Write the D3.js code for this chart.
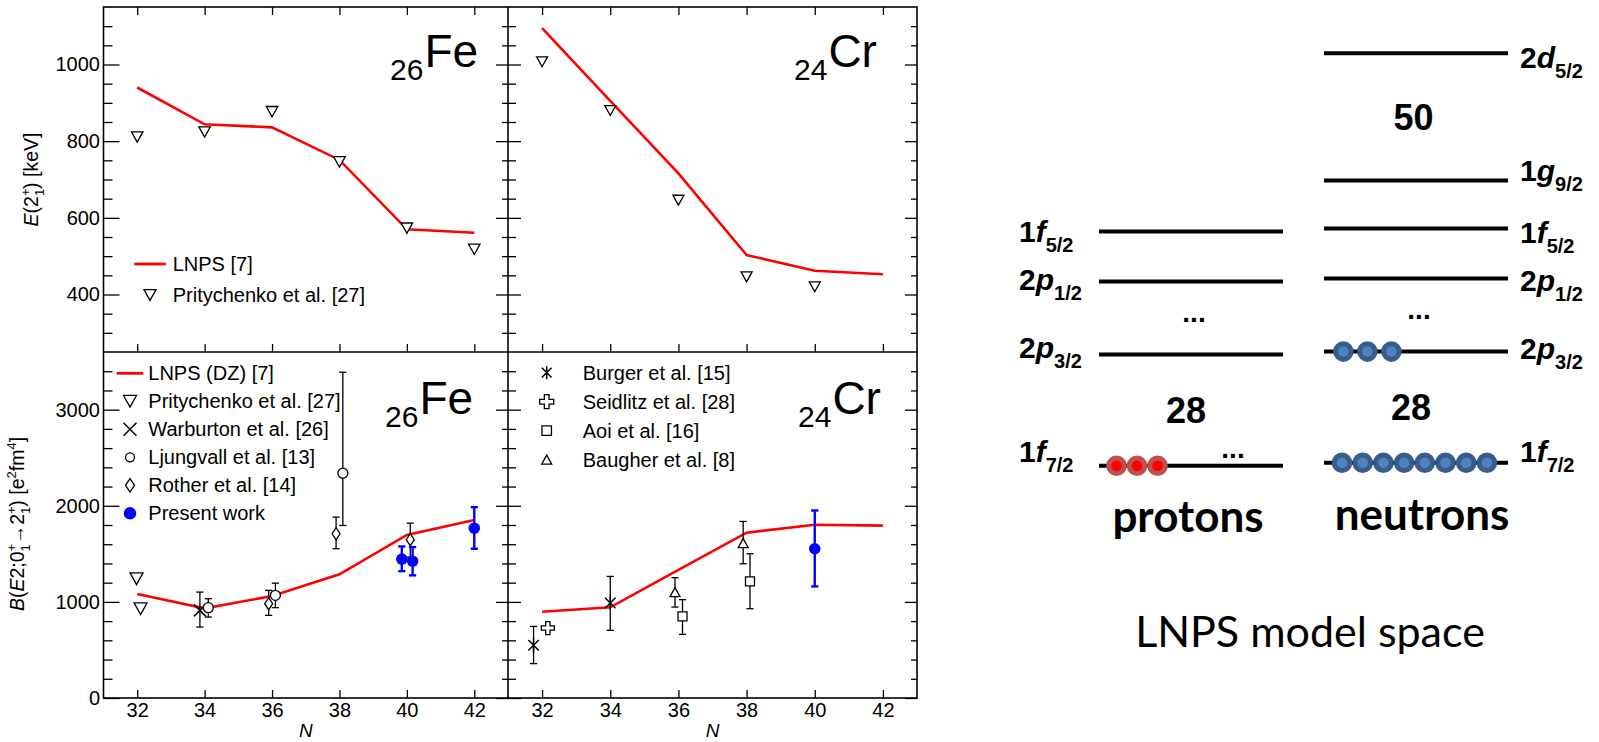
<!DOCTYPE html>
<html>
<head>
<meta charset="utf-8">
<script src="https://d3js.org/d3.v7.min.js"></script>
<style>
  body { margin: 0; background: #fff; }
  svg { display: block; }
  text { font-family: "Liberation Sans", Arial, Helvetica, sans-serif; fill: #000; }
</style>
</head>
<body>
<script>
// ---------- values ----------
const nTicks = [32, 34, 36, 38, 40, 42];
const eTicks = [400, 600, 800, 1000];
const bTicks = [0, 1000, 2000, 3000];

// E(2+) [keV]
const N = [32, 34, 36, 38, 40, 42];
const feE2Lnps = [940, 844, 836, 751, 570, 561];
const feE2Exp = [811, 824, 877, 746, 573, 518];
const crE2Lnps = [1095, 905, 716, 503, 462, 453];
const crE2ExpN = [32, 34, 36, 38, 40];
const crE2Exp = [1007, 880, 646, 446, 420];

// B(E2) [e2fm4], theory
const feBE2Lnps = [1082, 933, 1061, 1287, 1696, 1852];
const crBE2Lnps = [898, 944, 1332, 1720, 1803, 1793];

// B(E2) experiments: N as plotted, value, lower, upper
const fePritN = [31.98, 32.1], fePritB = [1241, 929];
const feWarbN = [33.86], feWarbB = [912], feWarbLo = [738], feWarbHi = [1102];
const feLjunN = [34.11, 36.1, 38.1], feLjunB = [940, 1068, 2339], feLjunLo = [842, 940, 1795], feLjunHi = [1033, 1195, 3389];
const feRothN = [35.9, 37.9, 40.1], feRothB = [981, 1709, 1647], feRothLo = [860, 1553, 1466], feRothHi = [1120, 1882, 1819];
const fePresN = [39.85, 40.17, 42], fePresB = [1445, 1424, 1767], fePresLo = [1320, 1276, 1553], fePresHi = [1577, 1570, 1986];

const crBurgN = [31.75, 34.0], crBurgB = [548, 988], crBurgLo = [358, 704], crBurgHi = [745, 1265];
const crSeidN = [32.17], crSeidB = [728];
const crAoiN = [36.12, 38.1], crAoiB = [849, 1213], crAoiLo = [662, 929], crAoiHi = [1023, 1501];
const crBaugN = [35.9, 37.9], crBaugB = [1102, 1611], crBaugLo = [946, 1397], crBaugHi = [1252, 1837];
const crPresN = [40], crPresB = [1553], crPresLo = [1161], crPresHi = [1951];

// LNPS model space (schematic level order)
const orbits = ["1f7/2", "2p3/2", "2p1/2", "1f5/2", "1g9/2", "2d5/2"];
const orbitE = [0, 111, 184, 234, 282, 409];
const protonOcc = [3, 0, 0, 0];
const neutronOcc = [8, 3, 0, 0, 0, 0];

// ---------- page ----------
const svg = d3.select("body").append("svg")
    .attr("width", 1599).attr("height", 742);
svg.append("rect").attr("width", 1599).attr("height", 742).attr("fill", "#fff");

const xL = d3.scaleLinear().domain([31, 43]).range([103.5, 508]);
const xR = d3.scaleLinear().domain([31, 43]).range([508, 917]);
const yE = d3.scaleLinear().domain([250, 1150]).range([352, 7]);
const yB = d3.scaleLinear().domain([0, 3600]).range([698, 352]);

const eMinor = d3.range(300, 1101, 50).filter(v => v % 200 !== 0);
const bMinor = d3.range(200, 3401, 200).filter(v => v % 1000 !== 0);

function axes(x, y, o) {
    const g = svg.append("g");
    const [xa, xb] = x.range();
    const yTop = y.range()[1], yBot = y.range()[0];
    g.append("g").attr("transform", `translate(${xa},0)`)
        .call(d3.axisLeft(y).tickValues(o.minor).tickSize(-o.lMin).tickFormat(() => ""));
    g.append("g").attr("transform", `translate(${xa},0)`)
        .call(d3.axisLeft(y).tickValues(o.major).tickSizeInner(-o.lMaj).tickSizeOuter(0)
            .tickPadding(3.5).tickFormat(o.yLabels ? d3.format("d") : () => ""));
    g.append("g").attr("transform", `translate(${xb},0)`)
        .call(d3.axisRight(y).tickValues(o.minor).tickSize(-6).tickFormat(() => ""));
    g.append("g").attr("transform", `translate(${xb},0)`)
        .call(d3.axisRight(y).tickValues(o.major).tickSize(-12).tickFormat(() => ""));
    if (o.top) {
        g.append("g").attr("transform", `translate(0,${yTop})`)
            .call(d3.axisTop(x).tickValues(nTicks).tickSize(-8).tickFormat(() => ""));
    }
    g.append("g").attr("transform", `translate(0,${yBot})`)
        .call(d3.axisBottom(x).tickValues(nTicks).tickSizeInner(-8).tickSizeOuter(0)
            .tickPadding(5).tickFormat(o.xLabels ? d3.format("d") : () => ""));
    g.selectAll(".domain").remove();
    g.selectAll(".tick line").attr("stroke", "#000").attr("stroke-width", 1.3);
    g.selectAll(".tick text").attr("font-size", 20).attr("fill", "#000");
}

axes(xL, yE, {major: eTicks, minor: eMinor, lMaj: 16, lMin: 9, yLabels: true, top: true, xLabels: false});
axes(xR, yE, {major: eTicks, minor: eMinor, lMaj: 13, lMin: 8, yLabels: false, top: true, xLabels: false});
axes(xL, yB, {major: bTicks, minor: bMinor, lMaj: 16, lMin: 9, yLabels: true, top: false, xLabels: true});
axes(xR, yB, {major: bTicks, minor: bMinor, lMaj: 13, lMin: 8, yLabels: false, top: false, xLabels: true});

// frames
svg.append("rect").attr("x", 103.5).attr("y", 7).attr("width", 917 - 103.5).attr("height", 698 - 7)
    .attr("fill", "none").attr("stroke", "#000").attr("stroke-width", 1.6);
svg.append("line").attr("x1", 103.5).attr("x2", 917).attr("y1", 352).attr("y2", 352)
    .attr("stroke", "#000").attr("stroke-width", 1.6);
svg.append("line").attr("x1", 508).attr("x2", 508).attr("y1", 7).attr("y2", 698)
    .attr("stroke", "#000").attr("stroke-width", 1.6);

// ---------- marks ----------
function symbolPath(type, s) {
    const h = s / 2;
    if (type === "tdown") return `M${-h},${-0.45 * s}H${h}L0,${0.45 * s}Z`;
    if (type === "tup") return `M${-h},${0.45 * s}H${h}L0,${-0.45 * s}Z`;
    if (type === "x") return `M${-h},${-h}L${h},${h}M${-h},${h}L${h},${-h}`;
    if (type === "circle" || type === "dot") return d3.symbol(d3.symbolCircle, Math.PI * h * h)();
    if (type === "diamond") return `M0,${-0.75 * s}L${h},0L0,${0.75 * s}L${-h},0Z`;
    if (type === "square") return `M${-h},${-h}H${h}V${h}H${-h}Z`;
    if (type === "star") {
        const d = h * 0.75;
        return `M0,${-h}V${h}M${-d},${-d}L${d},${d}M${-d},${d}L${d},${-d}`;
    }
    if (type === "plus") {
        const a = s / 6;
        return `M${-a},${-h}H${a}V${-a}H${h}V${a}H${a}V${h}H${-a}V${a}H${-h}V${-a}H${-a}Z`;
    }
}

function marker(g, type, s, cx, cy) {
    const filled = type === "dot";
    const open = !filled && type !== "x" && type !== "star";
    g.append("path")
        .attr("d", symbolPath(type, s))
        .attr("transform", `translate(${cx},${cy})`)
        .attr("fill", filled ? "#0000ff" : (open ? "#fff" : "none"))
        .attr("stroke", filled ? "none" : "#000")
        .attr("stroke-width", type === "x" || type === "star" ? 1.5 : 1.3);
}

function points(x, y, n, v, type, s, lo, hi) {
    const g = svg.append("g");
    const col = type === "dot" ? "#0000ff" : "#000";
    const w = type === "dot" ? 2.4 : 1.3;
    if (lo) {
        n.forEach((d, i) => {
            const px = x(d);
            g.append("line").attr("x1", px).attr("x2", px).attr("y1", y(lo[i])).attr("y2", y(hi[i]))
                .attr("stroke", col).attr("stroke-width", w);
            [lo[i], hi[i]].forEach(e => {
                g.append("line").attr("x1", px - 3.6).attr("x2", px + 3.6).attr("y1", y(e)).attr("y2", y(e))
                    .attr("stroke", col).attr("stroke-width", w);
            });
        });
    }
    n.forEach((d, i) => marker(g, type, s, x(d), y(v[i])));
}

function theory(x, y, vals) {
    svg.append("path")
        .datum(d3.zip(N, vals))
        .attr("fill", "none")
        .attr("stroke", "#ff0000")
        .attr("stroke-width", 2.6)
        .attr("d", d3.line().x(d => x(d[0])).y(d => y(d[1])));
}

// top row: E(2+)
theory(xL, yE, feE2Lnps);
points(xL, yE, N, feE2Exp, "tdown", 11.5);
theory(xR, yE, crE2Lnps);
points(xR, yE, crE2ExpN, crE2Exp, "tdown", 11);

// bottom row: B(E2)
theory(xL, yB, feBE2Lnps);
points(xL, yB, fePritN, fePritB, "tdown", 13);
points(xL, yB, feWarbN, feWarbB, "x", 12, feWarbLo, feWarbHi);
points(xL, yB, feLjunN, feLjunB, "circle", 10, feLjunLo, feLjunHi);
points(xL, yB, feRothN, feRothB, "diamond", 8, feRothLo, feRothHi);
points(xL, yB, fePresN, fePresB, "dot", 11.5, fePresLo, fePresHi);

theory(xR, yB, crBE2Lnps);
points(xR, yB, crBurgN, crBurgB, "star", 14, crBurgLo, crBurgHi);
points(xR, yB, crSeidN, crSeidB, "plus", 13);
points(xR, yB, crAoiN, crAoiB, "square", 9, crAoiLo, crAoiHi);
points(xR, yB, crBaugN, crBaugB, "tup", 10, crBaugLo, crBaugHi);
points(xR, yB, crPresN, crPresB, "dot", 11.5, crPresLo, crPresHi);

// ---------- legends ----------
function legend(rows, mx, tx, y0, dy, lineFrom, lineTo, sizes) {
    rows.forEach((r, i) => {
        const yy = y0 + i * dy;
        if (r[1] === "line") {
            svg.append("line").attr("x1", lineFrom).attr("x2", lineTo).attr("y1", yy).attr("y2", yy)
                .attr("stroke", "#ff0000").attr("stroke-width", 2.8);
        } else {
            marker(svg, r[1], sizes[r[1]], mx, yy);
        }
        svg.append("text").attr("x", tx).attr("y", yy).attr("dy", "0.35em")
            .attr("font-size", 20).text(r[0]);
    });
}

legend([["LNPS [7]", "line"], ["Pritychenko et al. [27]", "tdown"]],
    150, 172.7, 264, 31, 134.3, 165.7, {tdown: 12});
legend([["LNPS (DZ) [7]", "line"], ["Pritychenko et al. [27]", "tdown"], ["Warburton et al. [26]", "x"],
        ["Ljungvall et al. [13]", "circle"], ["Rother et al. [14]", "diamond"], ["Present work", "dot"]],
    130, 148.3, 373.3, 28, 116.7, 143.3, {tdown: 13, x: 13, circle: 9, diamond: 9, dot: 12.5});
legend([["Burger et al. [15]", "star"], ["Seidlitz et al. [28]", "plus"], ["Aoi et al. [16]", "square"],
        ["Baugher et al. [8]", "tup"]],
    546.7, 582.7, 372.7, 29, 0, 0, {star: 13, plus: 14, square: 9.5, tup: 10});

// ---------- nucleus labels ----------
function nucleus(x0, yBase, z, el) {
    const t = svg.append("text").attr("x", x0).attr("y", yBase);
    t.append("tspan").attr("font-size", 30).text(z);
    t.append("tspan").attr("font-size", 46).attr("dx", 1).attr("dy", -13).text(el);
}
nucleus(390, 80, "26", "Fe");
nucleus(794, 80, "24", "Cr");
nucleus(385, 427, "26", "Fe");
nucleus(798, 427, "24", "Cr");

// ---------- axis titles ----------
const tE = svg.append("text").attr("transform", "translate(38,179.5) rotate(-90)")
    .attr("text-anchor", "middle").attr("font-size", 19.5);
tE.append("tspan").attr("font-style", "italic").text("E");
tE.append("tspan").text("(2");
tE.append("tspan").attr("font-size", 13).attr("dy", -8).text("+");
tE.append("tspan").attr("font-size", 13).attr("dx", -7.6).attr("dy", 14).text("1");
tE.append("tspan").attr("dy", -6).text(") [keV]");

const tB = svg.append("text").attr("transform", "translate(24,524) rotate(-90)")
    .attr("text-anchor", "middle").attr("font-size", 19.5);
tB.append("tspan").attr("font-style", "italic").text("B");
tB.append("tspan").text("(");
tB.append("tspan").attr("font-style", "italic").text("E");
tB.append("tspan").text("2;0");
tB.append("tspan").attr("font-size", 13).attr("dy", -8).text("+");
tB.append("tspan").attr("font-size", 13).attr("dx", -7.6).attr("dy", 14).text("1");
tB.append("tspan").attr("dy", -6).text("\u21922");
tB.append("tspan").attr("font-size", 13).attr("dy", -8).text("+");
tB.append("tspan").attr("font-size", 13).attr("dx", -7.6).attr("dy", 14).text("1");
tB.append("tspan").attr("dy", -6).text(") [e");
tB.append("tspan").attr("font-size", 13).attr("dy", -8).text("2");
tB.append("tspan").attr("dy", 8).text("fm");
tB.append("tspan").attr("font-size", 13).attr("dy", -8).text("4");
tB.append("tspan").attr("dy", 8).text("]");

[xL, xR].forEach(x => {
    svg.append("text").attr("x", d3.mean(x.range())).attr("y", 737)
        .attr("text-anchor", "middle").attr("font-size", 19).attr("font-style", "italic").text("N");
});

// ---------- LNPS model space diagram ----------
const yLev = d3.scaleLinear().domain([0, 409]).range([462.7, 53.3]);
const cols = [
    {occ: protonOcc, x0: 1099, x1: 1283, shift: 3, outer: "#c0504d", inner: "#ff0000",
     labelX: 1019, labelDy: [-4, 3, 8, 11], first: 17.5, step: [20.5, 20.5]},
    {occ: neutronOcc, x0: 1324, x1: 1508, shift: 0, outer: "#385d8a", inner: "#4f81bd",
     labelX: 1520, labelDy: [-1, 7, 12, 15, 1, 15], first: [18, 19.4], step: [20.7, 24]}
];

const diag = svg.append("g");
cols.forEach(c => {
    c.occ.forEach((k, i) => {
        const ly = yLev(orbitE[i]) + c.shift;
        diag.append("line").attr("x1", c.x0).attr("x2", c.x1).attr("y1", ly).attr("y2", ly)
            .attr("stroke", "#000").attr("stroke-width", 4);
        const first = Array.isArray(c.first) ? c.first[Math.min(i, 1)] : c.first;
        d3.range(k).forEach(j => {
            diag.append("circle").attr("cx", c.x0 + first + j * c.step[Math.min(i, 1)]).attr("cy", ly)
                .attr("r", 7.8).attr("fill", c.inner).attr("stroke", c.outer).attr("stroke-width", 5);
        });
        const name = orbits[i];
        const t = diag.append("text").attr("x", c.labelX).attr("y", ly + c.labelDy[i])
            .attr("font-weight", "bold").attr("font-size", 30);
        t.append("tspan").text(name[0]);
        t.append("tspan").attr("font-style", "italic").text(name[1]);
        t.append("tspan").attr("font-size", 20).attr("dy", 10).text(name.slice(2));
    });
    const cx = (c.x0 + c.x1) / 2;
    // shell gap N = 28 between 1f7/2 and 2p3/2
    diag.append("text").attr("x", cx - 5).attr("y", (yLev(orbitE[0]) + yLev(orbitE[1])) / 2 + c.shift + 13)
        .attr("text-anchor", "middle").attr("font-weight", "bold").attr("font-size", 36).text("28");
    // omitted levels between 2p3/2 and 2p1/2
    diag.append("text").attr("x", cx + 3).attr("y", (yLev(orbitE[1]) + yLev(orbitE[2])) / 2 + c.shift + 4)
        .attr("text-anchor", "middle").attr("font-weight", "bold").attr("font-size", 28).text("...");
});
diag.append("text").attr("x", 1413.6).attr("y", (yLev(orbitE[4]) + yLev(orbitE[5])) / 2 + 13)
    .attr("text-anchor", "middle").attr("font-weight", "bold").attr("font-size", 36).text("50");
diag.append("text").attr("x", 1233).attr("y", yLev(orbitE[0]) + 3 - 8)
    .attr("text-anchor", "middle").attr("font-weight", "bold").attr("font-size", 28).text("...");

diag.append("text").attr("x", 1188).attr("y", 531.7).attr("text-anchor", "middle")
    .style("font-family", "Lato, sans-serif").attr("font-weight", "bold").attr("font-size", 44).text("protons");
diag.append("text").attr("x", 1422).attr("y", 530).attr("text-anchor", "middle")
    .style("font-family", "Lato, sans-serif").attr("font-weight", "bold").attr("font-size", 44).text("neutrons");
diag.append("text").attr("x", 1310).attr("y", 646.7).attr("text-anchor", "middle")
    .style("font-family", "Lato, sans-serif").attr("font-size", 43).text("LNPS model space");
</script>
</body>
</html>
